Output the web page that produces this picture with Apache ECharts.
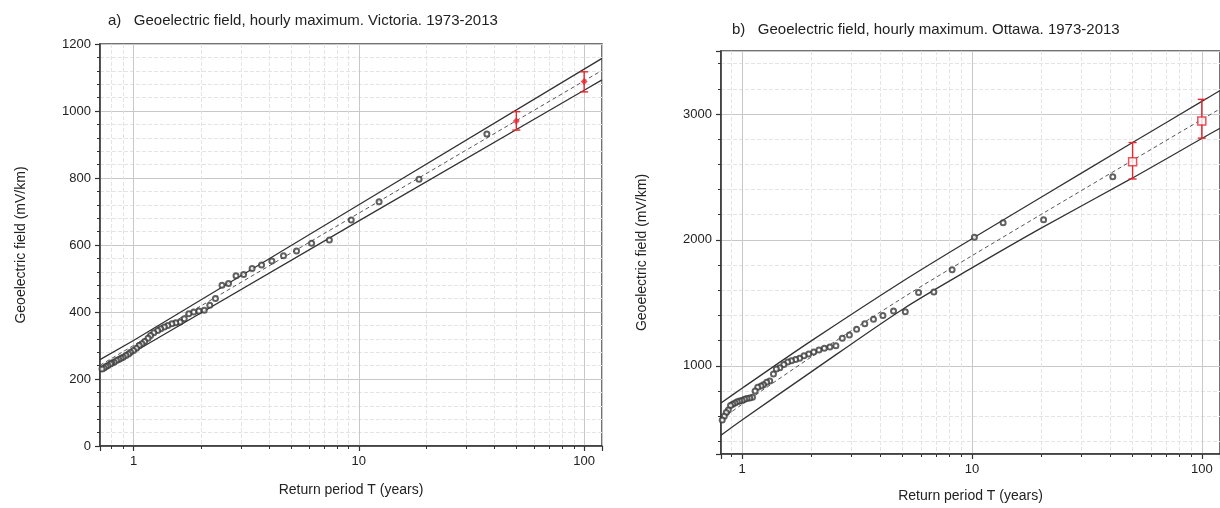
<!DOCTYPE html>
<html>
<head>
<meta charset="utf-8">
<script src="https://cdn.jsdelivr.net/npm/echarts@6/dist/echarts.min.js"></script>
<style>
html, body { margin: 0; padding: 0; background: #fff; }
#chart { width: 1220px; height: 508px; }
</style>
</head>
<body>
<div id="chart"></div>
<script>
// a) Victoria - ranked hourly maxima against return period
var periodA = [37, 18.5, 12.3, 9.25, 7.4, 6.17, 5.29, 4.63, 4.11, 3.7, 3.36, 3.08, 2.85, 2.64, 2.47, 2.31, 2.18,
    2.06, 1.95, 1.85, 1.76, 1.68, 1.61, 1.54, 1.48, 1.42, 1.37, 1.32, 1.28, 1.23, 1.19, 1.16, 1.12, 1.09, 1.06,
    1.03, 1.0, 0.97, 0.95, 0.925, 0.9, 0.88, 0.86, 0.84, 0.82, 0.8, 0.79, 0.77, 0.755, 0.74, 0.725];
var fieldA = [931, 796, 729, 675, 615, 605, 582, 568, 552, 540, 530, 512, 508, 485, 480, 440, 420,
    405, 403, 400, 395, 380, 370, 368, 365, 360, 355, 350, 345, 338, 330, 322, 312, 305, 300,
    292, 285, 280, 275, 270, 265, 262, 258, 255, 250, 248, 245, 240, 237, 233, 230];
var lineTA = [0.71, 1, 10, 100, 120];
var upperA = [258, 315, 720, 1125, 1157];
var fitA = [241, 300, 695, 1090, 1121];
var lowerA = [222, 280, 672, 1062, 1093];
var barTA = [50, 100];
var barMidA = [970, 1088];
var barLowA = [943, 1057];
var barHighA = [998, 1117];

// b) Ottawa
var periodB = [41, 20.5, 13.67, 10.25, 8.2, 6.83, 5.86, 5.13, 4.56, 4.1, 3.73, 3.42, 3.15, 2.93, 2.73, 2.56, 2.41,
    2.28, 2.16, 2.05, 1.95, 1.86, 1.78, 1.71, 1.64, 1.58, 1.52, 1.46, 1.41, 1.37, 1.32, 1.28, 1.24, 1.21, 1.17,
    1.14, 1.11, 1.08, 1.05, 1.025, 1.0, 0.976, 0.953, 0.932, 0.911, 0.891, 0.872, 0.854, 0.837, 0.82];
var fieldB = [2502, 2160, 2136, 2022, 1764, 1587, 1583, 1430, 1435, 1400, 1370, 1335, 1290, 1245, 1220, 1160, 1150,
    1140, 1125, 1110, 1095, 1080, 1060, 1050, 1040, 1030, 1010, 985, 975, 935, 880, 870, 850, 840, 830,
    800, 750, 745, 740, 735, 725, 720, 715, 705, 695, 685, 650, 630, 600, 570];
var lineTB = [0.81, 1, 2, 5, 10, 20, 50, 100, 120];
var upperB = [705, 822, 1198, 1672, 2009, 2339, 2773, 3100, 3186];
var fitB = [575, 694, 1070, 1540, 1874, 2202, 2632, 2956, 3040];
var lowerB = [449, 570, 952, 1450, 1778, 2094, 2492, 2805, 2887];
var barTB = [50, 100];
var barMidB = [2620, 2945];
var barLowB = [2484, 2808];
var barHighB = [2773, 3116];

var titleA = 'a)   Geoelectric field, hourly maximum. Victoria. 1973-2013';
var titleB = 'b)   Geoelectric field, hourly maximum. Ottawa. 1973-2013';
var xName = 'Return period T (years)';
var yName = 'Geoelectric field (mV/km)';

function zip(xs, ys) {
    return xs.map(function (x, i) { return [x, ys[i]]; });
}
function zip3(xs, a, b) {
    return xs.map(function (x, i) { return [x, a[i], b[i]]; });
}

var font = 'Liberation Sans, Arial, sans-serif';
var red = '#e8262f';

function errorBar(params, api) {
    var x = api.value(0);
    var lo = api.coord([x, api.value(1)]);
    var hi = api.coord([x, api.value(2)]);
    var w = 4;
    var st = { stroke: red, lineWidth: 1.4 };
    return {
        type: 'group',
        children: [
            { type: 'line', shape: { x1: lo[0], y1: lo[1], x2: hi[0], y2: hi[1] }, style: st },
            { type: 'line', shape: { x1: lo[0] - w, y1: lo[1], x2: lo[0] + w, y2: lo[1] }, style: st },
            { type: 'line', shape: { x1: hi[0] - w, y1: hi[1], x2: hi[0] + w, y2: hi[1] }, style: st }
        ]
    };
}

function plain(v) { return String(v); }

function xAxisFor(idx, min, gap) {
    return {
        type: 'log', logBase: 10, gridIndex: idx, min: min, max: 120,
        name: xName, nameLocation: 'middle', nameGap: gap,
        nameTextStyle: { color: '#222', fontSize: 14, fontFamily: font },
        axisLine: { onZero: false, lineStyle: { color: '#333', width: 1.5 } },
        axisTick: { length: 5, lineStyle: { color: '#333', width: 1.2 } },
        minorTick: { show: true, splitNumber: 9, length: 3, lineStyle: { color: '#333' } },
        axisLabel: { color: '#222', fontSize: 13, fontFamily: font, margin: 9, showMinLabel: false, showMaxLabel: false, formatter: plain },
        splitLine: { show: true, lineStyle: { color: '#c8c8c8', width: 1 } },
        minorSplitLine: { show: true, lineStyle: { color: '#e4e4e4', type: 'dashed', width: 1 } }
    };
}

function yAxisFor(idx, extra) {
    var ax = {
        type: 'value', gridIndex: idx,
        name: yName, nameLocation: 'middle', nameGap: 72,
        nameTextStyle: { color: '#222', fontSize: 14, fontFamily: font },
        axisLine: { show: true, lineStyle: { color: '#333', width: 1.5 } },
        axisTick: { show: true, length: 5, lineStyle: { color: '#333', width: 1.2 } },
        minorTick: { show: true, splitNumber: 5, length: 3, lineStyle: { color: '#333' } },
        axisLabel: { color: '#222', fontSize: 13, fontFamily: font, margin: 9, formatter: plain },
        splitLine: { show: true, lineStyle: { color: '#c8c8c8', width: 1 } },
        minorSplitLine: { show: true, lineStyle: { color: '#e4e4e4', type: 'dashed', width: 1 } }
    };
    for (var k in extra) ax[k] = extra[k];
    return ax;
}

function bandLines(idx, ts, up, mid, lo, smooth) {
    var base = { type: 'line', xAxisIndex: idx, yAxisIndex: idx, showSymbol: false, silent: true, z: 2, smooth: smooth };
    return [
        Object.assign({}, base, { data: zip(ts, up), lineStyle: { color: '#333', width: 1.3 } }),
        Object.assign({}, base, { data: zip(ts, mid), lineStyle: { color: '#555', width: 1, type: [4, 3] } }),
        Object.assign({}, base, { data: zip(ts, lo), lineStyle: { color: '#333', width: 1.3 } })
    ];
}

var chart = echarts.init(document.getElementById('chart'));
var option = {
    animation: false,
    backgroundColor: '#fff',
    textStyle: { fontFamily: font },
    title: [
        { text: titleA, left: 103, top: 8, textStyle: { color: '#222', fontSize: 15, fontWeight: 'normal', fontFamily: font } },
        { text: titleB, left: 727, top: 17, textStyle: { color: '#222', fontSize: 15, fontWeight: 'normal', fontFamily: font } }
    ],
    grid: [
        { left: 100, top: 44, width: 502, height: 402, show: true, borderColor: '#444', borderWidth: 1.5 },
        { left: 721, top: 51, width: 500, height: 403, show: true, borderColor: '#444', borderWidth: 1.5 }
    ],
    xAxis: [xAxisFor(0, 0.71, 37), xAxisFor(1, 0.81, 35)],
    yAxis: [
        yAxisFor(0, { min: 0, max: 1200, interval: 200 }),
        yAxisFor(1, { min: 300, max: 3500, minInterval: 1000, maxInterval: 1000,
            axisLabel: { color: '#222', fontSize: 13, fontFamily: font, margin: 9, showMinLabel: false, showMaxLabel: false, formatter: plain } })
    ],
    series: [].concat(
        bandLines(0, lineTA, upperA, fitA, lowerA, false),
        bandLines(1, lineTB, upperB, fitB, lowerB, 0.3),
        [
            { type: 'scatter', xAxisIndex: 0, yAxisIndex: 0, data: zip(periodA, fieldA), symbol: 'emptyCircle', symbolSize: 5,
              itemStyle: { color: '#3a3a3a', borderWidth: 0.9 }, z: 3 },
            { type: 'scatter', xAxisIndex: 1, yAxisIndex: 1, data: zip(periodB, fieldB), symbol: 'emptyCircle', symbolSize: 5,
              itemStyle: { color: '#3a3a3a', borderWidth: 0.9 }, z: 3 },
            { type: 'custom', xAxisIndex: 0, yAxisIndex: 0, renderItem: errorBar, data: zip3(barTA, barLowA, barHighA),
              encode: { x: 0, y: [1, 2] }, z: 4 },
            { type: 'custom', xAxisIndex: 1, yAxisIndex: 1, renderItem: errorBar, data: zip3(barTB, barLowB, barHighB),
              encode: { x: 0, y: [1, 2] }, z: 4 },
            { type: 'scatter', xAxisIndex: 0, yAxisIndex: 0, data: zip(barTA, barMidA), symbol: 'diamond', symbolSize: 7,
              itemStyle: { color: red }, z: 5 },
            { type: 'scatter', xAxisIndex: 1, yAxisIndex: 1, data: zip(barTB, barMidB), symbol: 'rect', symbolSize: 8,
              itemStyle: { color: '#fff', borderColor: red, borderWidth: 1.5 }, z: 5 }
        ]
    )
};
chart.setOption(option);
</script>
</body>
</html>
